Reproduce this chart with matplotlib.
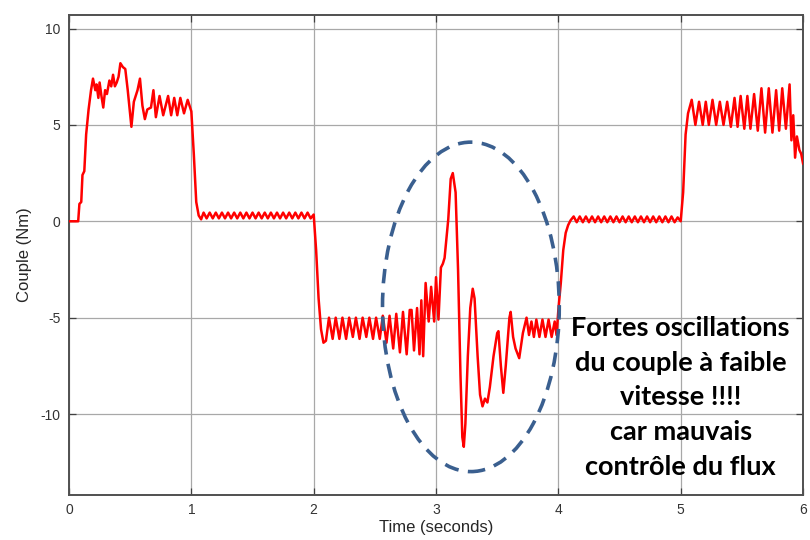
import matplotlib
matplotlib.use("Agg")
import matplotlib.pyplot as plt
from matplotlib.patches import Ellipse

# ---- data (time in s, torque in Nm) ----
t_start = [0.00, 0.075, 0.085, 0.10, 0.11, 0.125, 0.14, 0.16, 0.18, 0.196, 0.215, 0.225,
           0.24, 0.25, 0.265, 0.28, 0.295, 0.31, 0.33, 0.345, 0.36, 0.375, 0.39, 0.405,
           0.42, 0.44, 0.46, 0.48, 0.51, 0.53, 0.56, 0.58, 0.60, 0.62, 0.64, 0.67, 0.69,
           0.71, 0.74, 0.77, 0.81, 0.835, 0.86, 0.885, 0.91, 0.94, 0.97, 0.99, 1.00,
           1.02, 1.04, 1.06, 1.08]
c_start = [0.0, 0.0, 0.9, 1.0, 2.4, 2.6, 4.5, 5.8, 6.8, 7.4, 6.8, 7.1,
           6.4, 7.2, 6.5, 5.9, 6.8, 6.6, 7.3, 7.0, 7.6, 7.0, 7.2, 7.5,
           8.2, 8.0, 7.9, 6.8, 4.9, 6.2, 6.8, 7.4, 6.0, 5.3, 5.8, 5.9, 6.8,
           5.4, 6.5, 5.5, 6.5, 5.5, 6.4, 5.5, 6.4, 5.6, 6.3, 5.9, 5.7,
           3.5, 1.0, 0.3, 0.1]

t_zero1 = [1.100, 1.125, 1.150, 1.175, 1.200, 1.225, 1.250, 1.275, 1.300, 1.325,
           1.350, 1.375, 1.400, 1.425, 1.450, 1.475, 1.500, 1.525, 1.550, 1.575,
           1.600, 1.625, 1.650, 1.675, 1.700, 1.725, 1.750, 1.775, 1.800, 1.825,
           1.850, 1.875, 1.900, 1.925, 1.950, 1.975, 2.000]
c_zero1 = [0.45, 0.15, 0.45, 0.15, 0.45, 0.15, 0.45, 0.15, 0.45, 0.15,
           0.45, 0.15, 0.45, 0.15, 0.45, 0.15, 0.45, 0.15, 0.45, 0.15,
           0.45, 0.15, 0.45, 0.15, 0.45, 0.15, 0.45, 0.15, 0.45, 0.15,
           0.45, 0.15, 0.45, 0.15, 0.45, 0.15, 0.35]

t_neg = [2.02, 2.04, 2.06, 2.08, 2.10, 2.125, 2.155, 2.18, 2.21, 2.235, 2.265, 2.29,
         2.32, 2.345, 2.375, 2.40, 2.43, 2.455, 2.485, 2.51, 2.54, 2.565, 2.595, 2.62,
         2.65, 2.675, 2.705, 2.73, 2.76, 2.785, 2.80, 2.82, 2.845, 2.865, 2.88, 2.895,
         2.915, 2.94, 2.96, 2.985, 3.00, 3.02, 3.04, 3.056, 3.07, 3.10, 3.12, 3.137,
         3.16, 3.18, 3.20, 3.215, 3.227, 3.24, 3.26, 3.28, 3.30, 3.315, 3.34, 3.36,
         3.38, 3.40, 3.42, 3.44, 3.47, 3.50, 3.51, 3.53, 3.55, 3.57, 3.60, 3.61,
         3.63, 3.65, 3.68, 3.71, 3.74, 3.76, 3.78, 3.80, 3.82, 3.845, 3.87, 3.895,
         3.92, 3.945, 3.97, 3.985, 4.00, 4.02, 4.04, 4.06, 4.08, 4.10]
c_neg = [-1.5, -4.0, -5.6, -6.3, -6.2, -5.0, -6.1, -5.0, -6.1, -5.0, -6.1, -5.0,
         -6.0, -5.0, -6.1, -5.0, -6.0, -5.0, -6.1, -5.0, -6.1, -4.9, -6.3, -4.9,
         -6.6, -4.8, -6.8, -4.7, -6.9, -4.6, -4.6, -6.7, -4.5, -6.9, -4.1, -7.0,
         -3.2, -5.2, -3.4, -5.2, -2.9, -5.1, -2.4, -2.2, -1.9, 0.1, 2.2, 2.5,
         1.5, -2.5, -8.0, -11.2, -11.7, -10.5, -7.0, -4.5, -3.5, -4.0, -7.0, -9.0,
         -9.6, -9.2, -9.4, -8.6, -7.0, -5.8, -5.7, -7.5, -8.9, -7.5, -5.0, -4.7,
         -6.0, -6.6, -7.1, -5.8, -5.0, -5.9, -5.2, -6.0, -5.1, -6.0, -5.1, -6.0,
         -5.1, -6.0, -5.2, -5.9, -4.6, -3.2, -1.5, -0.6, -0.2, 0.05]

t_zero2 = [4.125, 4.150, 4.175, 4.200, 4.225, 4.250, 4.275, 4.300, 4.325, 4.350,
           4.375, 4.400, 4.425, 4.450, 4.475, 4.500, 4.525, 4.550, 4.575, 4.600,
           4.625, 4.650, 4.675, 4.700, 4.725, 4.750, 4.775, 4.800, 4.825, 4.850,
           4.875, 4.900, 4.925, 4.950, 4.975, 5.000]
c_zero2 = [0.25, -0.05, 0.25, -0.05, 0.25, -0.05, 0.25, -0.05, 0.25, -0.05,
           0.25, -0.05, 0.25, -0.05, 0.25, -0.05, 0.25, -0.05, 0.25, -0.05,
           0.25, -0.05, 0.25, -0.05, 0.25, -0.05, 0.25, -0.05, 0.25, -0.05,
           0.25, -0.05, 0.25, -0.05, 0.20, 0.0]

t_end = [5.02, 5.04, 5.06, 5.09, 5.12, 5.15, 5.18, 5.205, 5.23, 5.26, 5.29, 5.32,
         5.35, 5.38, 5.41, 5.44, 5.465, 5.49, 5.52, 5.545, 5.57, 5.60, 5.63, 5.66,
         5.69, 5.72, 5.75, 5.78, 5.805, 5.83, 5.86, 5.89, 5.905, 5.92, 5.935, 5.95,
         5.97, 5.985, 6.00]
c_end = [1.5, 4.5, 5.6, 6.3, 5.0, 6.2, 5.0, 6.2, 5.0, 6.3, 5.0, 6.2,
         5.0, 6.2, 4.9, 6.4, 4.9, 6.5, 4.8, 6.5, 4.8, 6.6, 4.7, 6.9,
         4.6, 6.9, 4.6, 6.8, 4.7, 6.9, 4.8, 7.1, 4.2, 5.5, 3.3, 4.4,
         3.7, 3.5, 3.0]

time_s = t_start + t_zero1 + t_neg + t_zero2 + t_end
couple = c_start + c_zero1 + c_neg + c_zero2 + c_end

x_ticks = [0, 1, 2, 3, 4, 5, 6]
y_ticks = [-10, -5, 0, 5, 10]
annotation = "Fortes oscillations\ndu couple à faible\nvitesse !!!!\ncar mauvais\ncontrôle du flux"

# ---- figure ----
plt.rcParams['font.family'] = ['Liberation Sans', 'DejaVu Sans']
fig = plt.figure(figsize=(8.1, 5.4), dpi=100)
ax = fig.add_axes([0.0852, 0.0833, 0.9062, 0.8889])

ax.plot(time_s, couple, color='#ff0000', lw=1.8, zorder=3)

ax.set_xlim(0, 6)
ax.set_ylim(-14.2, 10.7)
ax.set_xticks(x_ticks)
ax.set_yticks(y_ticks)
ax.set_xticklabels([str(v) for v in x_ticks])
ax.set_yticklabels([str(v) for v in y_ticks])
ax.grid(True, color='#a8a8a8', lw=0.9)
ax.set_axisbelow(True)
ax.tick_params(direction='in', length=5, width=0.9, colors='#404040',
               labelcolor='#333333', labelsize=10, top=True, right=True, pad=6)
for s in ax.spines.values():
    s.set_color('#505050')
    s.set_linewidth(1.4)

ax.set_xlabel('Time (seconds)', fontsize=12, color='#262626', labelpad=2)
ax.set_ylabel('Couple (Nm)', fontsize=12, color='#262626', labelpad=6)

ell = Ellipse((3.285, -4.44), 1.445, 17.09, fill=False, edgecolor='#3a5f8f',
              lw=2.6, linestyle=(0, (4, 2.6)), zorder=4)
ax.add_patch(ell)

ax.text(5.0, -9.14, annotation, ha='center', va='center', fontsize=19.5,
        fontweight='bold', family=['Lato', 'DejaVu Sans'], color='black',
        linespacing=1.54, zorder=5)

fig.savefig('out.png', dpi=100)
